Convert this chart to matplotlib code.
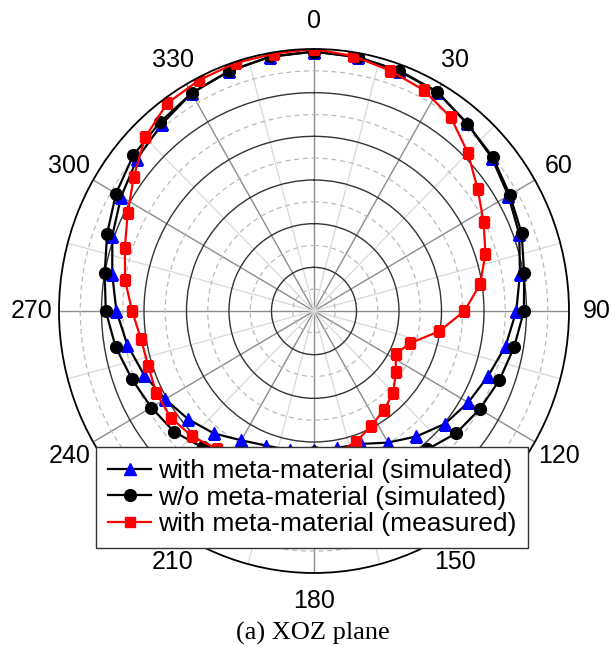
import matplotlib
matplotlib.use("Agg")
import matplotlib.pyplot as plt
import numpy as np

plt.rcParams['font.family'] = ['Liberation Sans', 'DejaVu Sans']

# normalized gain patterns (dB), simulated every 10 deg, measured every 9 deg
sim_angles = np.arange(0, 360, 10)
with_meta_sim = [-0.3, -0.45, -0.75, -1.05, -1.95, -2.7, -3.6, -4.3, -5.4, -6.2,
                 -7.1, -8.2, -9.05, -9.9, -11.25, -12.6, -13.8, -14.1, -14.1, -13.8,
                 -13.6, -12.9, -11.7, -10.7, -9.8, -8.7, -7.7, -6.75, -5.9, -4.75,
                 -3.8, -2.85, -2.1, -1.2, -0.75, -0.45]
without_meta_sim = [-0.3, -0.5, -0.7, -1.0, -2.0, -2.55, -3.4, -4.0, -4.9, -5.3,
                    -6.1, -6.8, -7.5, -8.2, -9.3, -11.1, -12.6, -13.5, -13.8, -13.5,
                    -12.6, -11.1, -9.6, -8.5, -7.9, -7.2, -6.3, -5.5, -5.0, -4.1,
                    -3.1, -2.25, -1.8, -1.2, -0.8, -0.4]

meas_angles = np.arange(0, 360, 9)
with_meta_meas = [0.0, -0.45, -1.05, -1.6, -2.6, -4.4, -6.2, -7.6, -8.8, -10.2,
                  -12.3, -15.1, -18.1, -19.2, -18.1, -16.8, -16.0, -15.2, -14.2, -13.5,
                  -12.6, -12.0, -11.4, -11.0, -10.5, -9.7, -9.2, -9.2, -9.5, -9.4,
                  -8.6, -7.5, -6.6, -5.4, -3.8, -1.9, -0.6, -0.3, -0.15, -0.15]

label_angles = np.arange(0, 360, 30)
angle_labels = ['0', '30', '60', '90', '120', '150', '180', '210', '240', '270', '300', '330']


def closed(angles, values):
    th = np.deg2rad(np.append(angles, angles[0]))
    return th, np.append(values, values[0])


fig = plt.figure(figsize=(6.13, 6.46), dpi=100)
ax = fig.add_axes([59 / 613, 73 / 646, 510 / 613, 524 / 646], projection='polar')
ax.set_aspect('auto')
ax.set_theta_zero_location('N')
ax.set_theta_direction(-1)
r_min, r_max = -30, 0
ax.set_rlim(r_min, r_max)

ax.set_yticks([-25, -20, -15, -10, -5])
ax.set_yticks([-27.5, -22.5, -17.5, -12.5, -7.5, -2.5], minor=True)
ax.set_yticklabels([])
ax.set_xticks(np.deg2rad(label_angles))
ax.set_xticks(np.deg2rad(np.arange(15, 360, 30)), minor=True)
ax.set_xticklabels([])

ax.yaxis.grid(True, which='major', color='#333333', lw=1.0, ls='-')
ax.yaxis.grid(True, which='minor', color='#bbbbbb', lw=0.9, ls=(0, (4, 3)))
ax.xaxis.grid(True, which='major', color='#8c8c8c', lw=1.0)
ax.xaxis.grid(True, which='minor', color='#d9d9d9', lw=0.9)
ax.tick_params(axis='x', which='major', direction='in', length=7, width=1.2)
ax.tick_params(axis='x', which='minor', direction='in', length=4, width=1.0)
ax.spines['polar'].set_linewidth(1.3)

# angle labels just outside the rim
label_r = r_max + 0.108 * (r_max - r_min)
for a, lab in zip(label_angles, angle_labels):
    ax.text(np.deg2rad(a), label_r, lab, ha='center', va='center',
            fontsize=18, clip_on=False)

th, r = closed(sim_angles, with_meta_sim)
ax.plot(th, r, color='black', lw=1.6, marker='^', ms=9, mfc='blue', mec='blue',
        label='with meta-material (simulated)')
th, r = closed(sim_angles, without_meta_sim)
ax.plot(th, r, color='black', lw=1.6, marker='o', ms=8.5, mfc='black', mec='black',
        label='w/o meta-material (simulated)')
th, r = closed(meas_angles, with_meta_meas)
ax.plot(th, r, color='red', lw=1.6, marker='s', ms=7, mfc='red', mec='red',
        label='with meta-material (measured)')

leg = fig.legend(loc='upper left', bbox_to_anchor=(96 / 613, 1 - 447 / 646),
                 borderaxespad=0, fontsize=19, frameon=True, fancybox=False,
                 handlelength=1.65, handletextpad=0.25, labelspacing=0.1,
                 borderpad=0.45, framealpha=1)
leg.get_frame().set_edgecolor('#333333')
leg.get_frame().set_linewidth(1.0)

fig.text(0.51, 1 - 633 / 646, '(a) XOZ plane', ha='center', va='center',
         fontsize=19, family='Liberation Serif')

fig.savefig('out.png', dpi=100)
